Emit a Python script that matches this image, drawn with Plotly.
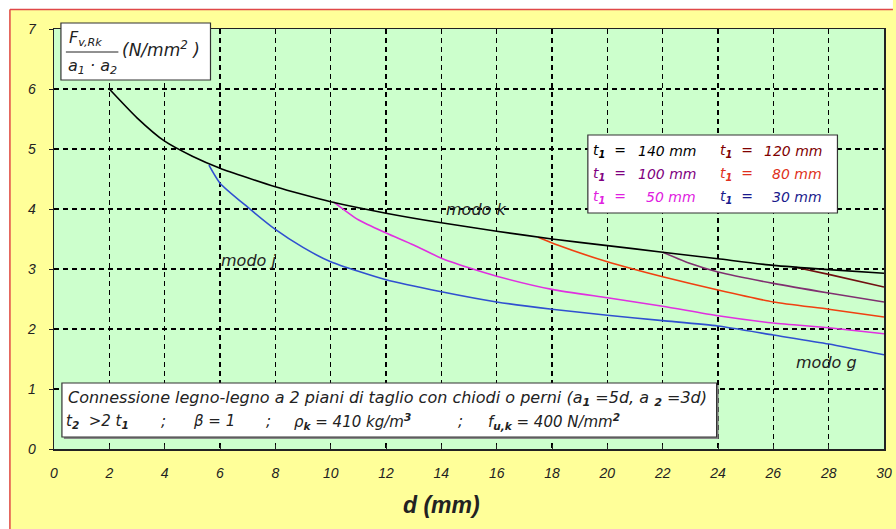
import plotly.graph_objects as go

# ---------------- data ----------------
d_140 = [2, 3, 4, 5, 6, 7, 8, 9, 10, 12, 14, 16, 18, 20, 22, 24, 26, 28, 30]
v_140 = [6.0, 5.52, 5.13, 4.88, 4.68, 4.52, 4.37, 4.24, 4.12, 3.93, 3.77, 3.63, 3.5, 3.39, 3.28, 3.17, 3.06, 2.99, 2.93]

d_120 = [26.8, 28, 30]
v_120 = [3.03, 2.91, 2.7]

d_100 = [22, 23, 24, 26, 28, 30]
v_100 = [3.28, 3.09, 2.95, 2.76, 2.6, 2.45]

d_80 = [17.5, 18.2, 20, 22, 24, 26, 28, 30]
v_80 = [3.53, 3.4, 3.12, 2.87, 2.65, 2.45, 2.33, 2.2]

d_50 = [10.1, 11, 12, 13, 14, 15, 16, 18, 20, 22, 24, 26, 28, 30]
v_50 = [4.12, 3.82, 3.6, 3.4, 3.18, 3.02, 2.88, 2.66, 2.52, 2.38, 2.22, 2.1, 2.02, 1.92]

d_30 = [5.6, 6, 7, 8, 9, 10, 12, 14, 16, 18, 20, 22, 24, 26, 28, 30]
v_30 = [4.73, 4.43, 4.03, 3.66, 3.36, 3.12, 2.82, 2.62, 2.45, 2.33, 2.23, 2.14, 2.05, 1.9, 1.75, 1.57]

x_ticks = list(range(0, 31, 2))
y_ticks = list(range(0, 8))

legend_rows = [
    [("140 mm", "#000000"), ("120 mm", "#800000")],
    [("100 mm", "#800080"), ("80 mm", "#e03020")],
    [("50 mm", "#e020e0"), ("30 mm", "#1a1a8c")],
]

# ---------------- layout geometry ----------------
W, H = 896, 529
L, R, T, B = 54, 4, 29, 80
PW = W - L - R
PH = H - T - B


def px(p):
    return (p - L) / PW


def py(p):
    return (H - B - p) / PH


FONT = "Arial, Liberation Sans, sans-serif"
BOXFONT = "DejaVu Sans, Verdana, sans-serif"

fig = go.Figure()

series = [
    (d_30, v_30, "#3050d0"),
    (d_50, v_50, "#e030e0"),
    (d_80, v_80, "#f04010"),
    (d_100, v_100, "#803070"),
    (d_120, v_120, "#701010"),
    (d_140, v_140, "#000000"),
]
for xs, ys, col in series:
    fig.add_trace(go.Scatter(x=xs, y=ys, mode="lines",
                             line=dict(color=col, width=1.6, shape="spline", smoothing=0.6),
                             showlegend=False, hoverinfo="skip"))

shapes = []
annotations = []

# outer frame: white margin strips + red border
shapes.append(dict(type="rect", xref="paper", yref="paper", x0=px(-5), x1=px(9), y0=py(H + 5), y1=py(-5),
                   fillcolor="white", line=dict(width=0), layer="below"))
shapes.append(dict(type="rect", xref="paper", yref="paper", x0=px(-5), x1=px(W + 5), y0=py(9), y1=py(-5),
                   fillcolor="white", line=dict(width=0), layer="below"))
shapes.append(dict(type="line", xref="paper", yref="paper", x0=px(9.5), x1=px(9.5), y0=py(9.5), y1=py(H + 5),
                   line=dict(color="#e04848", width=1.5), layer="below"))
shapes.append(dict(type="line", xref="paper", yref="paper", x0=px(9.5), x1=px(W + 5), y0=py(9.5), y1=py(9.5),
                   line=dict(color="#e04848", width=1.5), layer="below"))

# y-title box
shapes.append(dict(type="rect", xref="paper", yref="paper", x0=px(61), x1=px(212), y0=py(80), y1=py(23),
                   fillcolor="white", line=dict(color="#333333", width=1.2)))
shapes.append(dict(type="line", xref="paper", yref="paper", x0=px(66), x1=px(119), y0=py(52), y1=py(52),
                   line=dict(color="#222222", width=1)))
ytitle = [
    dict(text="F<sub>v,Rk</sub>", x=px(67), y=py(38), xanchor="left", yanchor="middle", size=16),
    dict(text="a<sub>1</sub> · a<sub>2</sub>", x=px(66), y=py(66), xanchor="left", yanchor="middle", size=16),
    dict(text="(N/mm<sup>2</sup> )", x=px(121), y=py(49), xanchor="left", yanchor="middle", size=17),
]
for a in ytitle:
    s = a.pop("size")
    a.update(xref="paper", yref="paper", showarrow=False,
             font=dict(family=BOXFONT, size=s, color="#222222", style="italic"))
annotations += ytitle

# legend box
shapes.append(dict(type="rect", xref="paper", yref="paper", x0=px(593), x1=px(845), y0=py(213), y1=py(135),
                   fillcolor="white", line=dict(color="#333333", width=1.2)))
row_y = [151, 174, 197]
col_t = [596, 724]
col_v = [704, 831]
for ri, row in enumerate(legend_rows):
    for ci, (label, col) in enumerate(row):
        f = dict(family=BOXFONT, size=14, color=col, style="italic")
        annotations.append(dict(text="t<sub><b>1</b></sub>  =", x=px(col_t[ci]), y=py(row_y[ri]),
                                xanchor="left", yanchor="middle", xref="paper", yref="paper",
                                showarrow=False, font=f))
        annotations.append(dict(text=label, x=px(col_v[ci]), y=py(row_y[ri]),
                                xanchor="right", yanchor="middle", xref="paper", yref="paper",
                                showarrow=False, font=f))

# bottom info box
shapes.append(dict(type="rect", xref="paper", yref="paper", x0=px(64), x1=px(725), y0=py(439), y1=py(385),
                   fillcolor="#888888", line=dict(width=0)))
shapes.append(dict(type="rect", xref="paper", yref="paper", x0=px(62), x1=px(723), y0=py(437), y1=py(383),
                   fillcolor="white", line=dict(color="#333333", width=1.2)))
box_texts = [dict(text="Connessione legno-legno a 2 piani di taglio con chiodi o perni (a<sub><b>1</b></sub> =5d, a <sub><b>2</b></sub> =3d)",
                  x=px(66), y=py(398), xanchor="left", yanchor="middle")]
row2 = [
    ("t<sub><b>2</b></sub>  >2 t<sub><b>1</b></sub>", 64),
    (";", 160),
    ("β = 1", 192),
    (";", 266),
    ("ρ<sub><b>k</b></sub> = 410 kg/m<sup><b>3</b></sup>", 294),
    (";", 460),
    ("f<sub><b>u,k</b></sub> = 400 N/mm<sup><b>2</b></sup>", 490),
]
for txt, xp in row2:
    box_texts.append(dict(text=txt, x=px(xp), y=py(421), xanchor="left", yanchor="middle"))
for a in box_texts:
    a.update(xref="paper", yref="paper", showarrow=False,
             font=dict(family=BOXFONT, size=16 if a is box_texts[0] else 15, color="#222222", style="italic"))
annotations += box_texts

# curve labels
for txt, xp, yp in [("modo k", 448, 209), ("modo j", 221, 260), ("modo g", 801, 362)]:
    annotations.append(dict(text=txt, x=px(xp), y=py(yp), xanchor="left", yanchor="middle",
                            xref="paper", yref="paper", showarrow=False,
                            font=dict(family=BOXFONT, size=16, color="#222222", style="italic")))

# x axis title
annotations.append(dict(text="<b>d (mm)</b>", x=px(445), y=py(505), xanchor="center", yanchor="middle",
                        xref="paper", yref="paper", showarrow=False,
                        font=dict(family=FONT, size=23, color="#222222", style="italic")))

tickfont = dict(family=FONT, size=14, color="#222222", style="italic")
fig.update_layout(
    width=W, height=H,
    margin=dict(l=L, r=R, t=T, b=B, pad=0),
    paper_bgcolor="#ffff99",
    plot_bgcolor="#ccffcc",
    shapes=shapes,
    annotations=annotations,
    xaxis=dict(range=[0, 30], tickvals=x_ticks, ticktext=[str(v) for v in x_ticks],
               showgrid=True, gridcolor="#000000", gridwidth=1.5, griddash="5px,4px",
               showline=True, linecolor="#222222", linewidth=1.5, mirror=True,
               ticks="inside", ticklen=4, tickcolor="#222222", ticklabelstandoff=11,
               ticklabeloverflow="allow",
               zeroline=False, tickfont=tickfont, fixedrange=True),
    yaxis=dict(range=[0, 7], tickvals=y_ticks, ticktext=[str(v) for v in y_ticks],
               showgrid=True, gridcolor="#000000", gridwidth=1.5, griddash="5px,4px",
               showline=True, linecolor="#222222", linewidth=1.5, mirror=True,
               ticks="outside", ticklen=4, tickcolor="#222222", ticklabelstandoff=10,
               ticklabeloverflow="allow",
               zeroline=False, tickfont=tickfont, fixedrange=True),
)

fig.write_html("out.html", config={"displayModeBar": False, "staticPlot": True},
               post_script="document.body.style.margin='0';")
